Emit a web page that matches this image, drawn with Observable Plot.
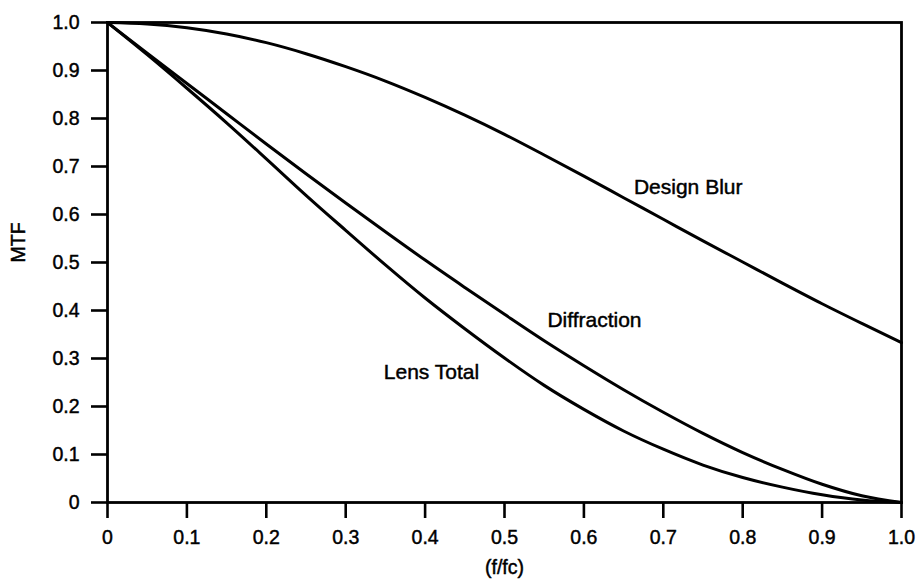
<!DOCTYPE html>
<html>
<head>
<meta charset="utf-8">
<script src="https://cdn.jsdelivr.net/npm/d3@7"></script>
<script src="https://cdn.jsdelivr.net/npm/@observablehq/plot@0.6"></script>
<style>
  html, body { margin: 0; padding: 0; background: #fff; }
  #chart { width: 918px; height: 584px; }
  #chart svg text { stroke: #000; stroke-width: 0.45px; }
</style>
</head>
<body>
<div id="chart"></div>
<script>
// Normalized spatial frequency (f/fc)
const freq = [0, 0.05, 0.1, 0.15, 0.2, 0.25, 0.3, 0.35, 0.4, 0.45, 0.5,
              0.55, 0.6, 0.65, 0.7, 0.75, 0.8, 0.85, 0.9, 0.95, 1.0];
// MTF readings for each curve
const designBlur = [1.0, 0.997, 0.989, 0.976, 0.958, 0.935, 0.908, 0.878, 0.844, 0.807, 0.767,
                    0.724, 0.680, 0.635, 0.590, 0.545, 0.501, 0.457, 0.414, 0.373, 0.333];
const diffraction = [1.0, 0.936, 0.873, 0.810, 0.747, 0.685, 0.624, 0.564, 0.505, 0.448, 0.392,
                     0.337, 0.285, 0.235, 0.188, 0.144, 0.104, 0.069, 0.038, 0.014, 0.0];
const lensTotal = [1.0, 0.933, 0.863, 0.791, 0.716, 0.640, 0.567, 0.495, 0.426, 0.362, 0.301,
                   0.244, 0.194, 0.149, 0.111, 0.078, 0.052, 0.032, 0.016, 0.005, 0.0];

const seriesNames = ["Design Blur", "Diffraction", "Lens Total"];
const seriesValues = [designBlur, diffraction, lensTotal];
// Where each curve's name is written (data coordinates, left edge of text)
const labelFreq = [0.663, 0.554, 0.348];
const labelMtf = [0.656, 0.379, 0.271];

const xTicks = [0, 0.1, 0.2, 0.3, 0.4, 0.5, 0.6, 0.7, 0.8, 0.9, 1.0];
const xTickLabels = ["0", "0.1", "0.2", "0.3", "0.4", "0.5", "0.6", "0.7", "0.8", "0.9", "1.0"];
const yTicks = [0, 0.1, 0.2, 0.3, 0.4, 0.5, 0.6, 0.7, 0.8, 0.9, 1.0];
const yTickLabels = ["0", "0.1", "0.2", "0.3", "0.4", "0.5", "0.6", "0.7", "0.8", "0.9", "1.0"];
const xTitle = "(f/fc)";
const yTitle = "MTF";

const rows = [];
seriesNames.forEach((name, s) => {
  freq.forEach((f, i) => rows.push({series: name, f, mtf: seriesValues[s][i]}));
});
const labels = seriesNames.map((name, s) => ({name, f: labelFreq[s], mtf: labelMtf[s]}));

const font = "'Liberation Sans', Arial, Helvetica, sans-serif";

const chart = Plot.plot({
  width: 918,
  height: 584,
  marginLeft: 107,
  marginRight: 17,
  marginTop: 22,
  marginBottom: 82,
  style: {fontFamily: font, fontSize: "19px", background: "#fff", color: "#000"},
  x: {domain: [0, 1]},
  y: {domain: [0, 1]},
  marks: [
    Plot.axisX({
      ticks: xTicks,
      tickFormat: d => xTickLabels[xTicks.indexOf(d)],
      tickSize: 16,
      tickPadding: 12,
      strokeWidth: 2.6,
      fontSize: 19.5,
      label: null
    }),
    Plot.axisY({
      ticks: yTicks,
      tickFormat: d => yTickLabels[yTicks.indexOf(d)],
      tickSize: 16,
      tickPadding: 12,
      strokeWidth: 2.6,
      fontSize: 19.5,
      label: null
    }),
    Plot.frame({stroke: "#000", strokeWidth: 2.8}),
    Plot.line(rows, {
      x: "f", y: "mtf", z: "series",
      stroke: "#000", strokeWidth: 3,
      curve: "monotone-x"
    }),
    Plot.text(labels, {
      x: "f", y: "mtf", text: "name",
      textAnchor: "start", fontSize: 21, fill: "#000"
    }),
    Plot.text([xTitle], {
      text: d => d, frameAnchor: "bottom", dy: 71, fontSize: 19.5, fill: "#000"
    }),
    Plot.text([yTitle], {
      text: d => d, frameAnchor: "left", dx: -89, rotate: -90, fontSize: 19.5, fill: "#000"
    })
  ]
});
document.getElementById("chart").appendChild(chart);
</script>
</body>
</html>
